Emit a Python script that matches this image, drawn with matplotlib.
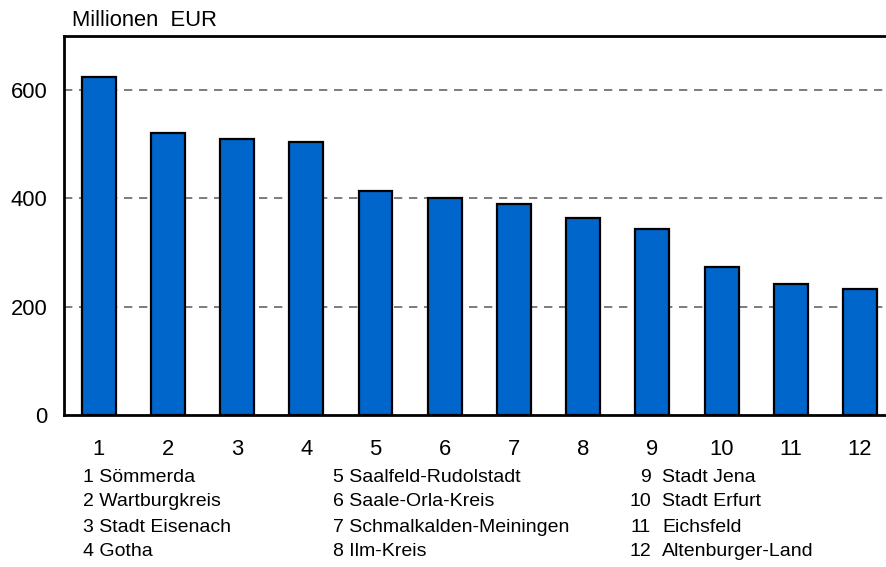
import matplotlib
matplotlib.use("Agg")
import matplotlib.pyplot as plt

plt.rcParams['font.family'] = ['Liberation Sans', 'DejaVu Sans']

positions = [1, 2, 3, 4, 5, 6, 7, 8, 9, 10, 11, 12]
values = [625, 520, 509, 504, 413, 400, 389, 363, 343, 273, 242, 233]
tick_labels = ["1", "2", "3", "4", "5", "6", "7", "8", "9", "10", "11", "12"]
names = ["Sömmerda", "Wartburgkreis", "Stadt Eisenach", "Gotha",
         "Saalfeld-Rudolstadt", "Saale-Orla-Kreis", "Schmalkalden-Meiningen", "Ilm-Kreis",
         "Stadt Jena", "Stadt Erfurt", "Eichsfeld", "Altenburger-Land"]
unit_label = "Millionen  EUR"

W, H = 887, 567
fig = plt.figure(figsize=(W / 100, H / 100), dpi=100)
ax = fig.add_axes([64 / W, 1 - 415 / H, (W - 64) / W, (415 - 36) / H])

ax.bar(positions, values, width=0.49, color="#0066CC", edgecolor="black",
       linewidth=1.6, zorder=3)
ax.set_xlim(0.5, 12.39)
ax.set_ylim(0, 700)
ax.set_yticks([0, 200, 400, 600])
ax.set_xticks(positions)
ax.set_xticklabels(tick_labels)
ax.tick_params(axis='both', length=0, labelsize=15.8)
ax.tick_params(axis='x', pad=17)
ax.tick_params(axis='y', pad=12)
for y in [200, 400, 600]:
    ax.axhline(y, color="#666666", linestyle=(0, (5, 4)), linewidth=1.2, zorder=1)
ax.spines['right'].set_visible(False)
for s in ['left', 'top', 'bottom']:
    ax.spines[s].set_linewidth(2)

fig.text(72 / W, 1 - 20 / H, unit_label, fontsize=15.8, ha='left', va='center')

rows_y = [477, 502, 527, 551]
for i, name in enumerate(names):
    col, row = divmod(i, 4)
    y = 1 - rows_y[row] / H
    if col == 0:
        fig.text(83 / W, y, f"{i + 1} {name}", fontsize=14, ha='left', va='center')
    elif col == 1:
        fig.text(333 / W, y, f"{i + 1} {name}", fontsize=14, ha='left', va='center')
    else:
        fig.text(651 / W, y, f"{i + 1}", fontsize=14, ha='right', va='center')
        fig.text(662 / W, y, name, fontsize=14, ha='left', va='center')

fig.savefig("out.png", dpi=100)
